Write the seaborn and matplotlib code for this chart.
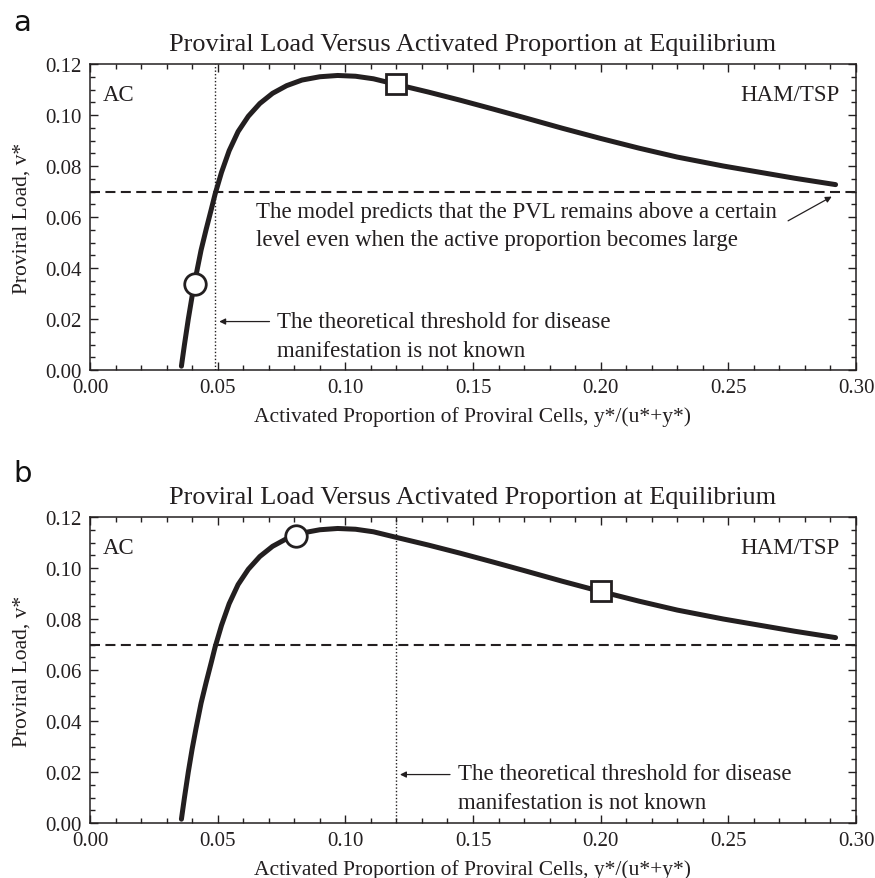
import matplotlib
matplotlib.use("Agg")
import matplotlib.pyplot as plt
import seaborn as sns
import pandas as pd
from matplotlib.ticker import MultipleLocator, FormatStrFormatter

# ---------------- data ----------------
activated_prop = [0.0358, 0.0370, 0.0385, 0.0400, 0.0415, 0.0435, 0.0455, 0.0475,
                  0.0490, 0.0515, 0.0545, 0.0580, 0.0620, 0.0665, 0.0715, 0.0770,
                  0.0830, 0.0900, 0.0970, 0.1040, 0.1110, 0.1200, 0.1325, 0.1450,
                  0.1580, 0.1700, 0.1850, 0.2000, 0.2150, 0.2300, 0.2480, 0.2620,
                  0.2760, 0.2920]
proviral_load = [0.0015, 0.0100, 0.0200, 0.0290, 0.0370, 0.0470, 0.0552, 0.0630,
                 0.0690, 0.0775, 0.0860, 0.0935, 0.0995, 0.1045, 0.1085, 0.1115,
                 0.1137, 0.1150, 0.1155, 0.1152, 0.1142, 0.1120, 0.1090, 0.1058,
                 0.1023, 0.0990, 0.0948, 0.0908, 0.0870, 0.0835, 0.0800, 0.0776,
                 0.0752, 0.0727]

asymptote_level = 0.07
panel_labels = ["a", "b"]
title_text = "Proviral Load Versus Activated Proportion at Equilibrium"
xlabel_text = "Activated Proportion of Proviral Cells, y*/(u*+y*)"
ylabel_text = "Proviral Load, v*"
threshold_x = [0.049, 0.12]
circle_points = [(0.041, 0.0338), (0.0805, 0.1127)]
square_points = [(0.12, 0.1120), (0.20, 0.0908)]
threshold_text = "The theoretical threshold for disease\nmanifestation is not known"
model_text = ("The model predicts that the PVL remains above a certain\n"
              "level even when the active proportion becomes large")

curve = pd.DataFrame({"x": activated_prop, "y": proviral_load})

# ---------------- style ----------------
sns.set_theme(style="ticks")
plt.rcParams["font.family"] = ["Liberation Serif", "DejaVu Serif"]

ink = "#231f20"
W, H = 875, 879
fig = plt.figure(figsize=(W / 100, H / 100), dpi=100)
fig.patch.set_facecolor("white")

ax_a = fig.add_axes([90 / W, 1 - 371 / H, 766 / W, 306 / H])
ax_b = fig.add_axes([90 / W, 1 - 824 / H, 766 / W, 306 / H])
axes = [ax_a, ax_b]
label_y = [1.0 + (65 - 23) / 306, 1.0 + (518 - 474) / 306]

for i, ax in enumerate(axes):
    ax.set_facecolor("white")
    ax.axhline(asymptote_level, color=ink, lw=1.5, ls=(0, (4.8, 2.6)), zorder=2)
    ax.axvline(threshold_x[i], color=ink, lw=1.0, ls=(0, (1, 1.5)), zorder=2)
    sns.lineplot(data=curve, x="x", y="y", ax=ax, color=ink, lw=3.6,
                 sort=False, estimator=None, zorder=3)
    cx, cy = circle_points[i]
    sx, sy = square_points[i]
    ax.plot([cx], [cy], marker="o", ms=15.5, mfc="white", mec=ink, mew=2.0,
            ls="none", zorder=5)
    ax.plot([sx], [sy], marker="s", ms=14.5, mfc="white", mec=ink, mew=2.0,
            ls="none", zorder=5)

    ax.set_xlim(0, 0.30)
    ax.set_ylim(0, 0.12)
    ax.xaxis.set_major_locator(MultipleLocator(0.05))
    ax.xaxis.set_minor_locator(MultipleLocator(0.01))
    ax.yaxis.set_major_locator(MultipleLocator(0.02))
    ax.yaxis.set_minor_locator(MultipleLocator(0.005))
    ax.xaxis.set_major_formatter(FormatStrFormatter("%.2f"))
    ax.yaxis.set_major_formatter(FormatStrFormatter("%.2f"))
    ax.tick_params(which="both", direction="in", top=True, right=True,
                   color=ink, width=1.0)
    ax.tick_params(which="major", length=6)
    ax.tick_params(which="minor", length=3.5)
    ax.tick_params(axis="x", which="major", labelsize=15, pad=6, labelcolor=ink)
    ax.tick_params(axis="y", which="major", labelsize=15, pad=6, labelcolor=ink)
    for sp in ax.spines.values():
        sp.set_visible(True)
        sp.set_color(ink)
        sp.set_linewidth(1.1)

    ax.set_xlabel(xlabel_text, fontsize=15.5, color=ink)
    ax.set_ylabel(ylabel_text, fontsize=15.5, color=ink)
    ax.xaxis.set_label_coords(0.5, -0.149)
    ax.xaxis.label.set_va("center")
    ax.yaxis.set_label_coords(-0.089, 0.5)
    ax.yaxis.label.set_va("center")

    ax.text(0.5, 1.066, title_text, transform=ax.transAxes, ha="center",
            va="center", fontsize=18.9, color=ink)
    ax.text(13 / 766 - 90 / 766, label_y[i], panel_labels[i],
            transform=ax.transAxes, ha="left", va="center",
            fontsize=21, family="DejaVu Sans", color="#111111")
    ax.text(0.017, 0.9, "AC", transform=ax.transAxes, ha="left", va="center",
            fontsize=16.5, color=ink)
    ax.text(0.978, 0.9, "HAM/TSP", transform=ax.transAxes, ha="right",
            va="center", fontsize=16.5, color=ink)

arrow_style = dict(arrowstyle="-|>", color=ink, lw=0.9, mutation_scale=9,
                   shrinkA=0, shrinkB=0)

# threshold annotations
ax_a.annotate("", xy=(0.0506, 0.019), xytext=(0.0703, 0.019),
              arrowprops=arrow_style)
ax_a.text(0.0733, 0.0133, threshold_text, ha="left", va="center",
          fontsize=16.5, color=ink, linespacing=1.45)

ax_b.annotate("", xy=(0.1214, 0.019), xytext=(0.1410, 0.019),
              arrowprops=arrow_style)
ax_b.text(0.1442, 0.0137, threshold_text, ha="left", va="center",
          fontsize=16.5, color=ink, linespacing=1.45)

# model annotation in panel a
ax_a.text(0.065, 0.0566, model_text, ha="left", va="center",
          fontsize=16.5, color=ink, linespacing=1.45)
ax_a.annotate("", xy=(0.2905, 0.0680), xytext=(0.2734, 0.0585),
              arrowprops=arrow_style)

fig.savefig("out.png", dpi=100, facecolor="white")
